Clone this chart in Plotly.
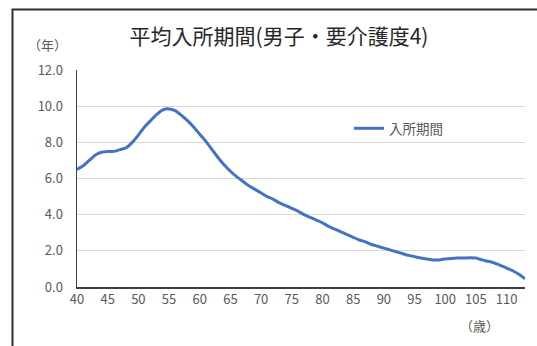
import plotly.graph_objects as go

ages = list(range(40, 114))
period = [6.5, 6.7, 7.0, 7.3, 7.45, 7.5, 7.5, 7.6, 7.7, 8.0,
          8.4, 8.85, 9.2, 9.55, 9.8, 9.85, 9.75, 9.5, 9.2, 8.85,
          8.45, 8.05, 7.6, 7.15, 6.75, 6.4, 6.1, 5.85, 5.6, 5.4,
          5.2, 5.0, 4.85, 4.65, 4.5, 4.35, 4.2, 4.0, 3.85, 3.7,
          3.55, 3.35, 3.2, 3.05, 2.9, 2.75, 2.6, 2.5, 2.35, 2.25,
          2.15, 2.05, 1.95, 1.85, 1.75, 1.68, 1.6, 1.55, 1.5, 1.5,
          1.55, 1.58, 1.6, 1.6, 1.62, 1.6, 1.5, 1.42, 1.33, 1.2,
          1.05, 0.9, 0.7, 0.45]
x_ticks = list(range(40, 111, 5))
y_ticks = [0, 2, 4, 6, 8, 10, 12]
y_tick_labels = [f"{v:.1f}" for v in y_ticks]

title = "平均入所期間(男子・要介護度4)"
series_name = "入所期間"
y_unit = "（年）"
x_unit = "（歳）"

W, H = 537, 346
L, R, T, B = 77, 12, 70, 59
pw, ph = W - L - R, H - T - B

def px_x(p):
    return (p - L) / pw

def px_y(p):
    return (H - B - p) / ph

font = "Noto Sans CJK JP"

fig = go.Figure()
fig.add_trace(go.Scatter(
    x=ages, y=period, mode="lines", name=series_name,
    line=dict(color="#4472C4", width=3, shape="spline", smoothing=0.6),
    hoverinfo="skip",
))

fig.update_layout(
    width=W, height=H,
    margin=dict(l=L, r=R, t=T, b=B),
    paper_bgcolor="white", plot_bgcolor="white",
    font=dict(family=font, color="#595959", size=13),
    showlegend=True,
    hovermode=False,
    dragmode=False,
    legend=dict(x=px_x(349), y=px_y(113), xanchor="left", yanchor="top",
                bgcolor="rgba(0,0,0,0)", font=dict(size=13.5, color="#595959"),
                itemwidth=30),
    title=dict(text=title, x=279 / W, xanchor="center",
               y=1 - 37 / H, yanchor="middle",
               font=dict(family=font, size=21, color="#262626")),
    xaxis=dict(range=[40, 113], tickvals=x_ticks, showgrid=False,
               showline=True, linecolor="#404040", linewidth=1.5,
               ticks="", zeroline=False, fixedrange=True,
               tickfont=dict(size=13, color="#595959")),
    yaxis=dict(range=[0, 12], tickvals=y_ticks, ticktext=y_tick_labels,
               showgrid=True, gridcolor="#D9D9D9", gridwidth=1,
               showline=True, linecolor="#404040", linewidth=1.5,
               ticks="", zeroline=False, ticklabelstandoff=10, fixedrange=True,
               tickfont=dict(size=13, color="#595959")),
    annotations=[
        dict(text=y_unit, xref="paper", yref="paper", x=px_x(47), y=px_y(45),
             xanchor="center", yanchor="middle",
             showarrow=False, font=dict(size=13, color="#595959")),
        dict(text=x_unit, xref="paper", yref="paper", x=px_x(479), y=px_y(325),
             xanchor="center", yanchor="middle",
             showarrow=False, font=dict(size=13, color="#595959")),
    ],
    shapes=[
        dict(type="path", xref="paper", yref="paper",
             path=(f"M {px_x(12.5)},{px_y(360)} L {px_x(12.5)},{px_y(9.5)} "
                   f"L {px_x(545)},{px_y(9.5)}"),
             line=dict(color="#303030", width=2)),
    ],
)

fig.write_html(
    "out.html", config={"displayModeBar": False, "staticPlot": True},
    post_script=("document.documentElement.style.margin='0px';"
                 "document.documentElement.style.overflow='hidden';"
                 "document.body.style.margin='0px';"
                 "document.body.style.overflow='hidden';"))
